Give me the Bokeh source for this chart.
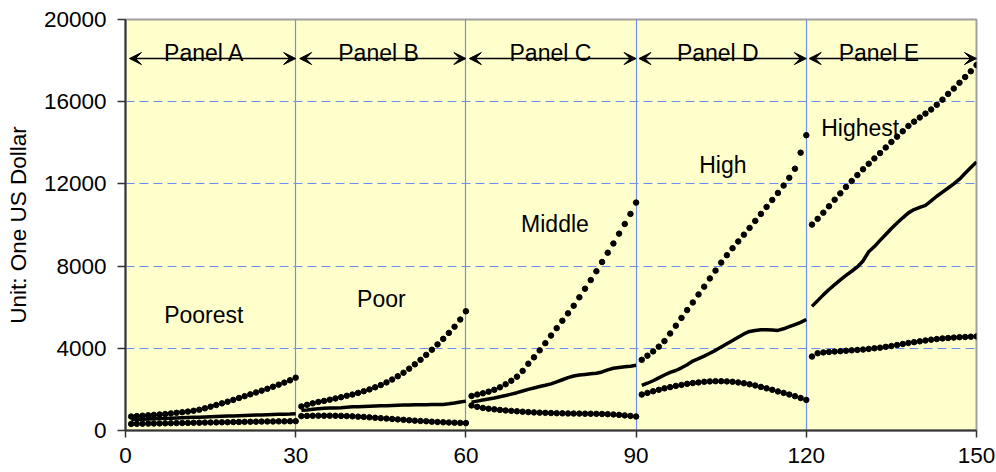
from bokeh.plotting import figure
from bokeh.models import Range1d, FixedTicker, NumeralTickFormatter, Arrow, VeeHead, ColumnDataSource
from bokeh.core.properties import value
from bokeh.embed import file_html
from bokeh.resources import INLINE

FONT = "Liberation Sans"

# ---- data ----
x_ticks = [0, 30, 60, 90, 120, 150]
y_ticks = [0, 4000, 8000, 12000, 16000, 20000]
panel_bounds = [30, 60, 90, 120]

x_a = list(range(1, 31))
x_b = list(range(31, 61))
x_c = list(range(61, 91))
x_d = list(range(91, 121))
x_e = list(range(121, 151))

upper_a = [680, 700, 720, 740, 760, 780, 800, 830, 860, 890, 920, 960, 1010, 1080, 1160,
           1240, 1320, 1400, 1490, 1580, 1670, 1760, 1850, 1940, 2030, 2130, 2230, 2330, 2440, 2570]
mid_a = [530, 540, 550, 560, 570, 580, 590, 600, 610, 620, 630, 640, 650, 660, 670,
         680, 690, 700, 710, 720, 730, 740, 750, 760, 770, 780, 790, 795, 800, 810]
low_a = [320, 325, 330, 335, 340, 345, 350, 355, 360, 365, 370, 375, 380, 385, 390,
         395, 400, 405, 410, 415, 420, 425, 430, 435, 440, 440, 445, 445, 450, 455]

upper_b = [1170, 1250, 1320, 1390, 1440, 1500, 1560, 1620, 1690, 1750, 1830, 1910, 2000, 2100, 2210,
           2340, 2480, 2640, 2810, 3010, 3220, 3440, 3680, 3930, 4190, 4460, 4750, 5050, 5400, 5800]
mid_b = [980, 1000, 1030, 1060, 1080, 1090, 1100, 1110, 1130, 1150, 1160, 1170, 1180, 1190, 1200,
         1210, 1220, 1230, 1240, 1240, 1250, 1250, 1250, 1260, 1260, 1270, 1300, 1340, 1390, 1430]
low_b = [700, 710, 715, 720, 720, 720, 715, 710, 700, 690, 675, 660, 640, 620, 600,
         580, 560, 540, 520, 500, 480, 465, 450, 430, 415, 400, 390, 380, 370, 360]

upper_c = [1680, 1750, 1810, 1890, 1980, 2100, 2250, 2420, 2620, 2900, 3250, 3560, 3900, 4250, 4620,
           4980, 5340, 5700, 6070, 6480, 6900, 7320, 7750, 8200, 8650, 9100, 9580, 10050, 10540, 11090]
mid_c = [1380, 1430, 1480, 1530, 1580, 1640, 1700, 1770, 1840, 1920, 2000, 2070, 2140, 2200, 2270,
         2370, 2470, 2570, 2650, 2700, 2730, 2760, 2790, 2850, 2950, 3030, 3070, 3100, 3130, 3170]
low_c = [1220, 1150, 1100, 1060, 1030, 1000, 975, 955, 935, 915, 895, 880, 868, 858, 850,
         842, 835, 830, 826, 822, 818, 814, 810, 805, 795, 780, 760, 735, 710, 680]

upper_d = [3440, 3640, 3850, 4080, 4350, 4720, 5100, 5480, 5860, 6230, 6620, 7000, 7400, 7780, 8170,
           8530, 8870, 9200, 9530, 9860, 10200, 10540, 10880, 11220, 11560, 11920, 12300, 12740, 13520, 14370]
mid_d = [2190, 2300, 2420, 2560, 2700, 2830, 2920, 3050, 3200, 3380, 3500, 3620, 3760, 3900, 4060,
         4220, 4380, 4540, 4700, 4820, 4870, 4900, 4900, 4890, 4870, 4950, 5050, 5150, 5260, 5400]
low_d = [1750, 1830, 1910, 1980, 2050, 2110, 2170, 2220, 2270, 2310, 2340, 2370, 2390, 2400, 2400,
         2390, 2370, 2340, 2300, 2250, 2190, 2120, 2050, 1980, 1900, 1830, 1750, 1670, 1580, 1490]

upper_e = [10020, 10300, 10600, 10910, 11230, 11540, 11850, 12140, 12430, 12710, 12980, 13240, 13500, 13770, 14040,
           14300, 14560, 14820, 15030, 15230, 15420, 15620, 15850, 16100, 16380, 16640, 16920, 17200, 17480, 17780]
mid_e = [6040, 6320, 6600, 6860, 7100, 7330, 7550, 7750, 7960, 8250, 8700, 8950, 9250, 9540, 9830,
         10100, 10350, 10590, 10750, 10860, 10960, 11170, 11400, 11600, 11800, 12000, 12230, 12520, 12800, 13070]
low_e = [3600, 3760, 3800, 3820, 3840, 3860, 3880, 3900, 3920, 3940, 3970, 4000, 4030, 4070, 4110,
         4160, 4210, 4260, 4300, 4340, 4380, 4420, 4450, 4480, 4500, 4520, 4540, 4550, 4565, 4580]

panel_names = ["Panel A", "Panel B", "Panel C", "Panel D", "Panel E"]
panel_label_x = [13.9, 44.6, 74.9, 104.4, 132.8]
panel_label_y = [18350, 18350, 18350, 18350, 18350]
arrow_start = [0.7, 30.7, 60.6, 90.5, 120.5]
arrow_end = [30, 60, 90, 120, 150]
arrow_y = 18100

group_names = ["Poorest", "Poor", "Middle", "High", "Highest"]
group_label_x = [13.8, 45.1, 75.7, 105.3, 129.5]
group_label_y = [5600, 6380, 10070, 12940, 14720]

y_label = "Unit: One US Dollar"

# ---- figure ----
p = figure(width=996, height=472, output_backend="svg", toolbar_location=None,
           x_range=Range1d(0, 150), y_range=Range1d(0, 20000),
           min_border_left=125, min_border_right=20, min_border_top=19, min_border_bottom=42)
p.background_fill_color = "#ffffcc"
p.border_fill_color = "white"
p.outline_line_color = "#a0a0a0"
p.outline_line_width = 2

# grids
p.ygrid.ticker = FixedTicker(ticks=[4000, 8000, 12000, 16000])
p.ygrid.grid_line_color = "#6f8ff0"
p.ygrid.grid_line_dash = "9 5"
p.ygrid.grid_line_width = 1
p.xgrid.ticker = FixedTicker(ticks=panel_bounds)
p.xgrid.grid_line_color = "#6f8ff0"
p.xgrid.grid_line_width = 1.2

# axes
for ax in (p.xaxis, p.yaxis):
    ax.axis_line_color = "#333333"
    ax.axis_line_width = 2
    ax.major_tick_line_color = "#333333"
    ax.major_tick_line_width = 1.5
    ax.major_tick_in = 0
    ax.minor_tick_out = 0
    ax.minor_tick_in = 0
    ax.major_label_text_font = FONT
    ax.major_label_text_font_size = "22.5px"
    ax.major_label_text_color = "black"
p.xaxis.ticker = FixedTicker(ticks=x_ticks)
p.yaxis.ticker = FixedTicker(ticks=y_ticks)
p.yaxis.formatter = NumeralTickFormatter(format="0")
p.xaxis.formatter = NumeralTickFormatter(format="0")
p.yaxis.major_tick_out = 8
p.yaxis.major_label_standoff = 11
p.xaxis.major_tick_out = 7
p.xaxis.major_label_standoff = 10
p.yaxis.axis_label = y_label
p.yaxis.axis_label_text_font = FONT
p.yaxis.axis_label_text_font_size = "22.5px"
p.yaxis.axis_label_text_font_style = "normal"
p.yaxis.axis_label_text_color = "black"
p.yaxis.axis_label_standoff = 10

# series
panels = [
    (x_a, upper_a, mid_a, low_a),
    (x_b, upper_b, mid_b, low_b),
    (x_c, upper_c, mid_c, low_c),
    (x_d, upper_d, mid_d, low_d),
    (x_e, upper_e, mid_e, low_e),
]
for xs, up, mid, low in panels:
    p.line(xs, mid, line_color="black", line_width=3.5)
    p.scatter(xs, up, size=5.5, color="black")
    p.scatter(xs, low, size=5.5, color="black")

# panel arrows and labels
for i in range(5):
    p.add_layout(Arrow(start=VeeHead(size=12, fill_color="black", line_color="black", line_width=1),
                       end=VeeHead(size=12, fill_color="black", line_color="black", line_width=1),
                       x_start=arrow_start[i], y_start=arrow_y,
                       x_end=arrow_end[i], y_end=arrow_y,
                       line_color="black", line_width=1.5))

src_panel = ColumnDataSource(dict(x=panel_label_x, y=panel_label_y, t=panel_names))
p.text(x="x", y="y", text="t", source=src_panel, text_font=value(FONT),
       text_font_size="23px", text_align="center", text_baseline="alphabetic", text_color="black")

src_group = ColumnDataSource(dict(x=group_label_x, y=group_label_y, t=group_names))
p.text(x="x", y="y", text="t", source=src_group, text_font=value(FONT),
       text_font_size="23px", text_align="center", text_baseline="alphabetic", text_color="black")

open("out.html", "w").write(file_html(p, INLINE))
